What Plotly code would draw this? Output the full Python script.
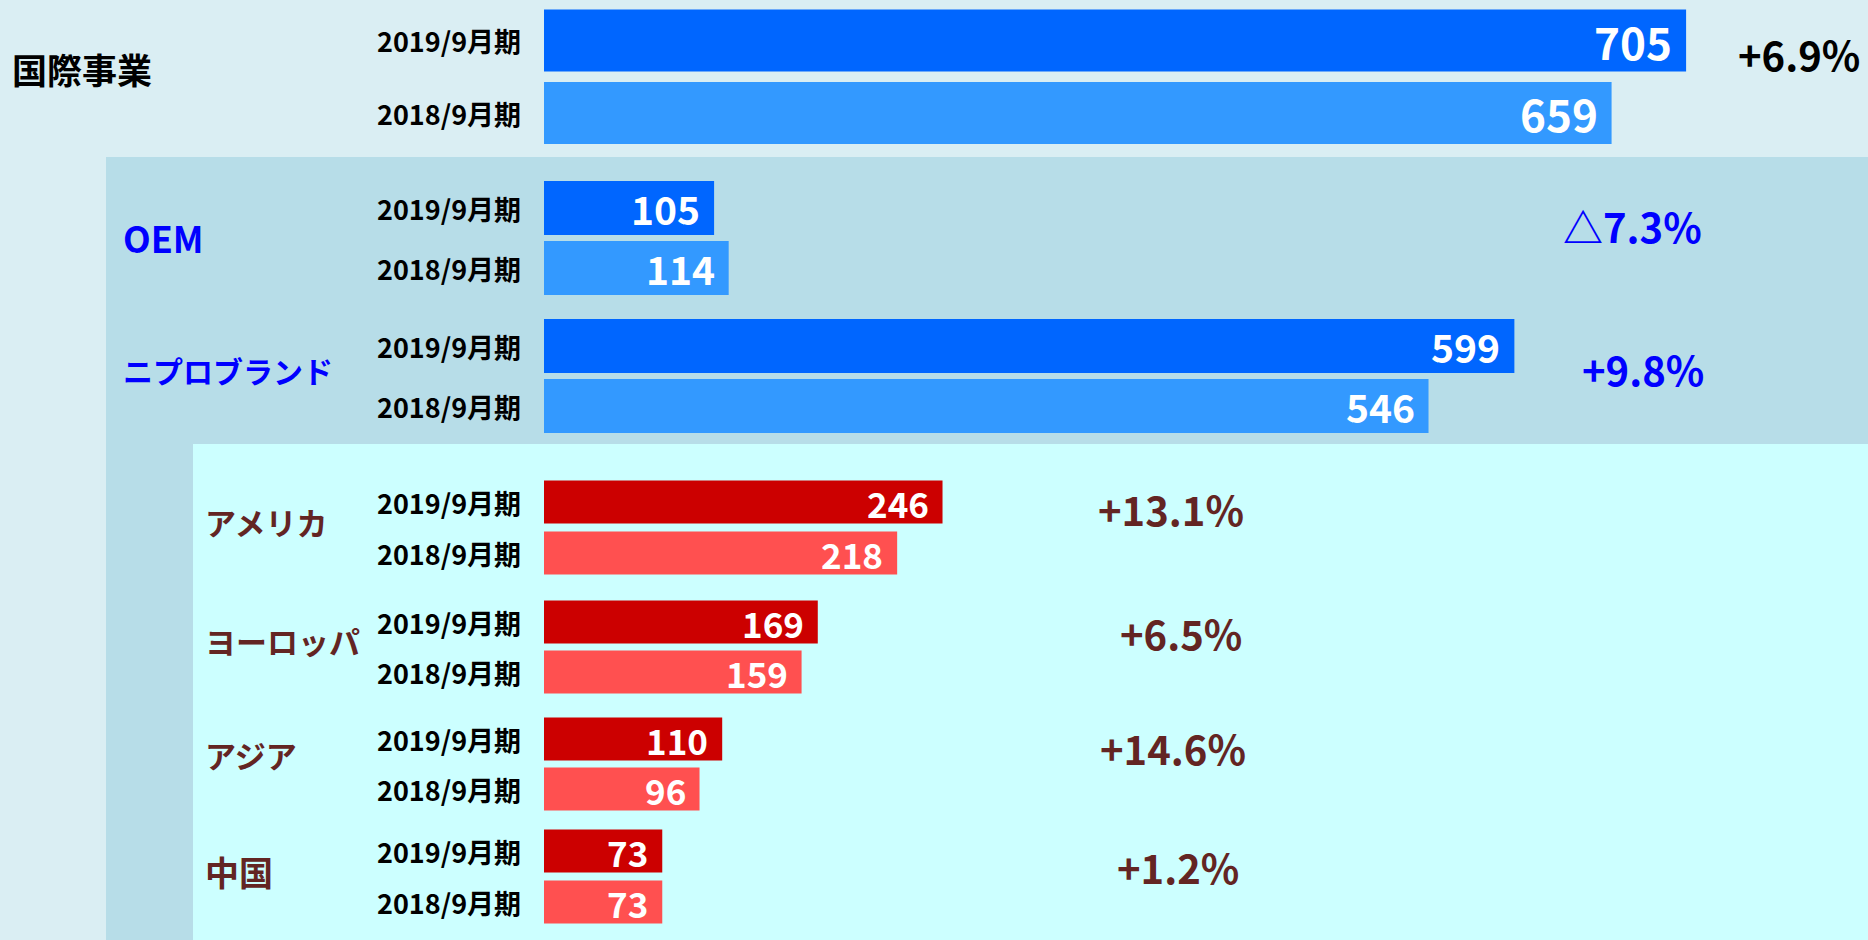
import plotly.graph_objects as go

# ---------------- data ----------------
segments = ["国際事業", "OEM", "ニプロブランド", "アメリカ", "ヨーロッパ", "アジア", "中国"]
periods = ["2019/9月期", "2018/9月期"]
sales_2019 = [705, 105, 599, 246, 169, 110, 73]
sales_2018 = [659, 114, 546, 218, 159, 96, 73]
growth_labels = ["+6.9%", "△7.3%", "+9.8%", "+13.1%", "+6.5%", "+14.6%", "+1.2%"]

# ---------------- layout / styling ----------------
W, H = 1868, 940
X0_PX = 544          # pixel where value 0 sits
PX_PER_UNIT = 1.62   # pixels per unit of value
FONT = "Noto Sans CJK JP, Noto Sans, sans-serif"


def px_to_x(px):
    return (px - X0_PX) / PX_PER_UNIT


# vertical placement of rows (in pixel units on the y axis)
row_2019 = [40.5, 208, 346, 502, 622, 739, 851]
row_2018 = [113, 268, 406, 553, 672, 789, 902]
bar_h = [62, 54, 54, 43, 43, 43, 43]
value_font = [44, 39, 39, 35, 35, 35, 35]

col_2019 = ["#0066FF"] * 3 + ["#CC0000"] * 4
col_2018 = ["#3399FF"] * 3 + ["#FF5050"] * 4
label_col = ["#000000", "#0000FF", "#0000FF", "#632523", "#632523", "#632523", "#632523"]

seg_label_x = [10, 121, 121, 203, 203, 203, 203]
seg_label_y = [68, 237, 370, 521, 640, 754, 871]
seg_label_size = [35, 36, 30, 31, 31, 31, 34]

growth_right_x = [1862, 1704, 1706, 1246, 1244, 1248, 1241]
growth_y = [54, 226, 369, 509, 633, 748, 867]
growth_size = [40, 40, 40, 40, 40, 40, 40]

period_right_px = 523

fig = go.Figure()

fig.add_trace(go.Bar(
    name=periods[0], orientation="h", x=sales_2019, y=row_2019, width=bar_h,
    marker=dict(color=col_2019, line=dict(width=0)), hoverinfo="x",
))
fig.add_trace(go.Bar(
    name=periods[1], orientation="h", x=sales_2018, y=row_2018, width=bar_h,
    marker=dict(color=col_2018, line=dict(width=0)), hoverinfo="x",
))

annotations = []
for i in range(len(segments)):
    # value labels inside the bar ends
    for val, yrow in ((sales_2019[i], row_2019[i]), (sales_2018[i], row_2018[i])):
        annotations.append(dict(
            x=val, y=yrow, xref="x", yref="y", text=str(val), showarrow=False,
            xanchor="right", yanchor="middle", xshift=-12,
            font=dict(family=FONT, size=value_font[i], color="white", weight="bold"),
        ))
    # period labels
    for per, yrow in ((periods[0], row_2019[i]), (periods[1], row_2018[i])):
        annotations.append(dict(
            x=px_to_x(period_right_px), y=yrow, xref="x", yref="y", text=per,
            showarrow=False, xanchor="right", yanchor="middle",
            font=dict(family=FONT, size=27, color="black", weight="bold"),
        ))
    # segment labels
    annotations.append(dict(
        x=px_to_x(seg_label_x[i]), y=seg_label_y[i], xref="x", yref="y",
        text=segments[i], showarrow=False, xanchor="left", yanchor="middle",
        font=dict(family=FONT, size=seg_label_size[i], color=label_col[i], weight="bold"),
    ))
    # growth labels
    annotations.append(dict(
        x=px_to_x(growth_right_x[i]), y=growth_y[i], xref="x", yref="y",
        text=growth_labels[i], showarrow=False, xanchor="right", yanchor="middle",
        font=dict(family=FONT, size=growth_size[i], color=label_col[i], weight="bold"),
    ))

shapes = [
    dict(type="rect", xref="paper", yref="paper", x0=106 / W, x1=1, y0=0, y1=1 - 157 / H,
         fillcolor="#B7DDE8", line=dict(width=0), layer="below"),
    dict(type="rect", xref="paper", yref="paper", x0=193 / W, x1=1, y0=0, y1=1 - 444 / H,
         fillcolor="#CCFFFF", line=dict(width=0), layer="below"),
]

fig.update_layout(
    width=W, height=H,
    margin=dict(l=0, r=0, t=0, b=0, pad=0),
    paper_bgcolor="#DAEEF3", plot_bgcolor="rgba(0,0,0,0)",
    showlegend=False, barmode="overlay",
    xaxis=dict(range=[px_to_x(0), px_to_x(W)], visible=False, fixedrange=True),
    yaxis=dict(range=[H, 0], visible=False, fixedrange=True),
    annotations=annotations, shapes=shapes,
    font=dict(family=FONT),
)

fig.write_html("out.html", config={"displayModeBar": False})
